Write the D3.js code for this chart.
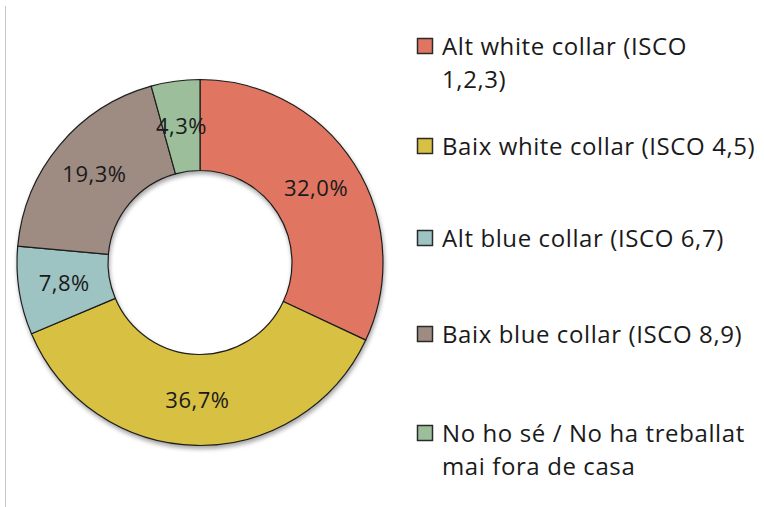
<!DOCTYPE html>
<html>
<head>
<meta charset="utf-8">
<script src="https://cdn.jsdelivr.net/npm/d3@7"></script>
<style>
  body { margin: 0; background: #fff; }
  svg text { font-family: "Open Sans", sans-serif; fill: #1a1a1a; }
</style>
</head>
<body>
<div id="chart"></div>
<script>
// Chart data
const categories = [
  'Alt white collar (ISCO\n1,2,3)',
  'Baix white collar (ISCO 4,5)',
  'Alt blue collar (ISCO 6,7)',
  'Baix blue collar (ISCO 8,9)',
  'No ho sé / No ha treballat\nmai fora de casa'
];
const values = [32.0, 36.7, 7.8, 19.3, 4.3];
const colors = ['#e07562', '#d7c043', '#9dc3c3', '#9e8b82', '#9cbe9b'];

const width = 764;
const height = 507;
const cx = 200, cy = 262.5;
const outerR = 183, innerR = 92;

const svg = d3.select('#chart')
  .append('svg')
  .attr('width', width)
  .attr('height', height);

// soft shadow like the original office chart
const defs = svg.append('defs');
const shadow = defs.append('filter')
  .attr('id', 'shadow')
  .attr('x', '-10%').attr('y', '-10%')
  .attr('width', '120%').attr('height', '120%');
shadow.append('feDropShadow')
  .attr('dx', 1).attr('dy', 3)
  .attr('stdDeviation', 2)
  .attr('flood-color', '#000')
  .attr('flood-opacity', 0.35);

// left frame line
svg.append('line')
  .attr('x1', 5.5).attr('x2', 5.5)
  .attr('y1', 6).attr('y2', height)
  .attr('stroke', '#c8c8c8')
  .attr('stroke-width', 1);

const data = categories.map((c, i) => ({ label: c, value: values[i], color: colors[i] }));

const pie = d3.pie()
  .value(d => d.value)
  .sort(null);

const arc = d3.arc()
  .innerRadius(innerR)
  .outerRadius(outerR);

const g = svg.append('g')
  .attr('transform', `translate(${cx},${cy})`);

const ring = g.append('g').attr('filter', 'url(#shadow)');

ring.selectAll('path')
  .data(pie(data))
  .enter()
  .append('path')
  .attr('d', arc)
  .attr('fill', d => d.data.color)
  .attr('stroke', '#1e1e1e')
  .attr('stroke-width', 1.2);

// slice labels
g.selectAll('.slice-label')
  .data(pie(data))
  .enter()
  .append('text')
  .attr('class', 'slice-label')
  .attr('transform', d => `translate(${arc.centroid(d)})`)
  .attr('text-anchor', 'middle')
  .attr('dy', '0.35em')
  .style('font-size', '22px')
  .style('letter-spacing', '0.5px')
  .text(d => d.data.value.toFixed(1).replace('.', ',') + '%');

// legend
const legendRows = [47, 147, 239, 335, 434];
const legend = svg.selectAll('.legend')
  .data(data)
  .enter()
  .append('g')
  .attr('class', 'legend')
  .attr('transform', (d, i) => `translate(417,${legendRows[i]})`);

legend.append('rect')
  .attr('x', 0.5)
  .attr('y', -8.5)
  .attr('width', 15)
  .attr('height', 15)
  .attr('fill', d => d.color)
  .attr('stroke', '#2a2a2a')
  .attr('stroke-width', 1.5);

legend.append('text')
  .attr('x', 25)
  .attr('y', 0)
  .style('font-size', '24px')
  .style('letter-spacing', '0.6px')
  .selectAll('tspan')
  .data(d => d.label.split('\n'))
  .enter()
  .append('tspan')
  .attr('x', 25)
  .attr('dy', (d, i) => i === 0 ? '0.33em' : '33px')
  .text(d => d);
</script>
</body>
</html>
